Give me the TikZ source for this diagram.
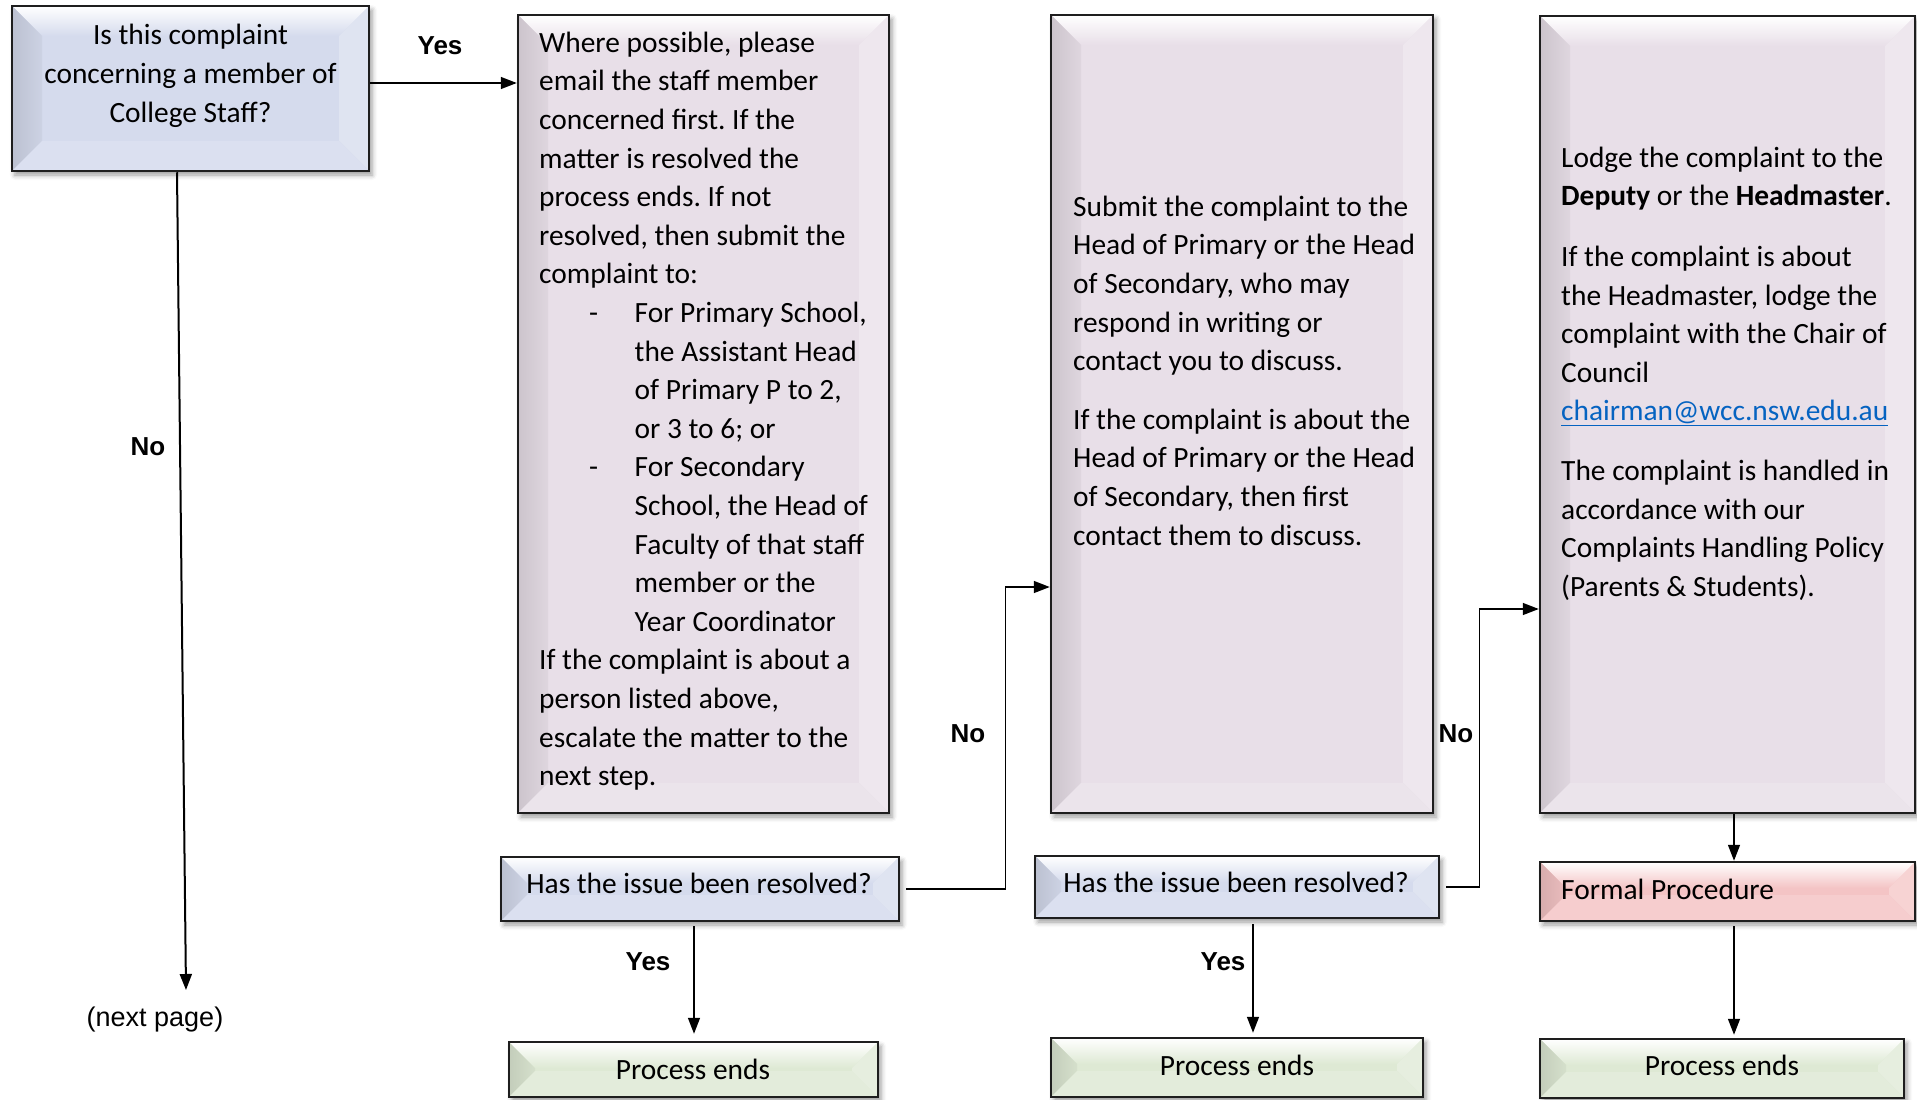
\documentclass[tikz,border=0pt]{standalone}
\usepackage{fontspec}
\setmainfont{Carlito}
\newfontfamily\labelfont{Liberation Sans}
\usetikzlibrary{arrows.meta,calc,shadows.blur}

\definecolor{qblue}{HTML}{D5DBED}
\definecolor{stepmauve}{HTML}{E8DFE8}
\definecolor{formalpink}{HTML}{F4C4C5}
\definecolor{endgreen}{HTML}{DEE9D4}
\definecolor{edgegray}{HTML}{1E1E1E}
\definecolor{linkblue}{HTML}{0563C1}

\tikzset{
  % bevelled box: #1 fill colour, #2 bevel depth
  bevelbox/.style n args={2}{
    rectangle, draw=edgegray, line width=2.5pt, fill=#1, inner sep=0pt,
    blur shadow={shadow xshift=3pt, shadow yshift=-4pt,
                 shadow blur radius=5pt, shadow opacity=40},
    path picture={
      \coordinate (pNW) at (path picture bounding box.north west);
      \coordinate (pNE) at (path picture bounding box.north east);
      \coordinate (pSW) at (path picture bounding box.south west);
      \coordinate (pSE) at (path picture bounding box.south east);
      % top face
      \shade[top color=white, bottom color=#1]
        (pNW) -- (pNE) -- ($(pNE)+(-#2,#2)$) -- ($(pNW)+(#2,#2)$) -- cycle;
      % left face
      \shade[left color=#1!88!black, right color=#1!96!black]
        (pNW) -- ($(pNW)+(#2,#2)$) -- ($(pSW)+(#2,-#2)$) -- (pSW) -- cycle;
      % right face
      \fill[#1!75!white]
        (pNE) -- ($(pNE)+(-#2,#2)$) -- ($(pSE)+(-#2,-#2)$) -- (pSE) -- cycle;
      % bottom face
      \fill[#1!85!white]
        (pSW) -- ($(pSW)+(#2,-#2)$) -- ($(pSE)+(-#2,-#2)$) -- (pSE) -- cycle;
    }
  },
  boxtext/.style={font=\fontsize{29.4pt}{38.6pt}\selectfont, inner sep=0pt},
  flowlabel/.style={font=\labelfont\bfseries\fontsize{26pt}{30pt}\selectfont, inner sep=0pt},
  conn/.style={draw=black, line width=1.5pt},
  arr/.style={conn, -{Triangle[length=16pt,width=12pt]}},
}

\begin{document}
\frenchspacing
\begin{tikzpicture}[x=1pt,y=-1pt]
\useasboundingbox (0,0) rectangle (1917,1100);

% ---- boxes ----
\node[bevelbox={qblue}{30}, minimum width=357pt, minimum height=165pt] (q1) at (190.5,88.5) {};
\node[bevelbox={stepmauve}{30}, minimum width=371pt, minimum height=798pt] (stepA) at (703.5,414) {};
\node[bevelbox={stepmauve}{30}, minimum width=382pt, minimum height=798pt] (stepB) at (1242,414) {};
\node[bevelbox={stepmauve}{30}, minimum width=375pt, minimum height=797pt] (stepC) at (1727.5,414.5) {};

\node[bevelbox={qblue}{26}, minimum width=398pt, minimum height=64pt] (res1) at (700,889) {};
\node[bevelbox={qblue}{26}, minimum width=404pt, minimum height=62pt] (res2) at (1237,887) {};
\node[bevelbox={formalpink}{26}, minimum width=375pt, minimum height=59pt] (formal) at (1727.5,891.5) {};

\node[bevelbox={endgreen}{26}, minimum width=369pt, minimum height=55pt] (end1) at (693.5,1069.5) {};
\node[bevelbox={endgreen}{26}, minimum width=372pt, minimum height=59pt] (end2) at (1237,1067.5) {};
\node[bevelbox={endgreen}{26}, minimum width=364pt, minimum height=59pt] (end3) at (1722,1068.5) {};

% ---- box texts ----
\node[boxtext, align=center, anchor=north] (q1txt) at (190.5,17.7)
  {\strut Is this complaint\\concerning a member of\\College Staff?};

\node[boxtext, align=left, anchor=north west] (stepAtxt) at (539,25) {\strut Where possible, please\\
email the staff member\\
concerned first. If the\\
matter is resolved the\\
process ends. If not\\
resolved, then submit the\\
complaint to:\\
\makebox[95.5pt][l]{\hspace*{50pt}-}For Primary School,\\
\hspace*{95.5pt}the Assistant Head\\
\hspace*{95.5pt}of Primary P to 2,\\
\hspace*{95.5pt}or 3 to 6; or\\
\makebox[95.5pt][l]{\hspace*{50pt}-}For Secondary\\
\hspace*{95.5pt}School, the Head of\\
\hspace*{95.5pt}Faculty of that staff\\
\hspace*{95.5pt}member or the\\
\hspace*{95.5pt}Year Coordinator\\
If the complaint is about a\\
person listed above,\\
escalate the matter to the\\
next step.};

\node[boxtext, align=left, anchor=north west] (stepBtxt) at (1073,189) {\strut Submit the complaint to the\\
Head of Primary or the Head\\
of Secondary, who may\\
respond in writing or\\
contact you to discuss.\\[20pt]
If the complaint is about the\\
Head of Primary or the Head\\
of Secondary, then first\\
contact them to discuss.};

\node[boxtext, align=left, anchor=north west] (stepCtxt) at (1561,140) {\strut Lodge the complaint to the\\
\textbf{Deputy} or the \textbf{Headmaster}.\\[22pt]
If the complaint is about\\
the Headmaster, lodge the\\
complaint with the Chair of\\
Council\\
\textcolor{linkblue}{\underline{chairman@wcc.nsw.edu.au}}\\[21pt]
The complaint is handled in\\
accordance with our\\
Complaints Handling Policy\\
(Parents \& Students).};

\node[boxtext, anchor=base] (res1txt) at (699,893) {Has the issue been resolved?};
\node[boxtext, anchor=base] (res2txt) at (1236,892) {Has the issue been resolved?};
\node[boxtext, anchor=base west] (formaltxt) at (1561,899) {Formal Procedure};
\node[boxtext, anchor=base] (end1txt) at (693,1079) {Process ends};
\node[boxtext, anchor=base] (end2txt) at (1237,1075) {Process ends};
\node[boxtext, anchor=base] (end3txt) at (1722,1075) {Process ends};

% ---- connectors ----
\coordinate (q1out) at ([yshift=5.5pt]q1.east);
\draw[arr] (q1out) -- (q1out -| stepA.west);

\coordinate (q1down) at ([xshift=-13.5pt]q1.south);
\coordinate (nextpage) at (186,990);
\draw[arr, line width=2pt] (q1down) -- (nextpage);

\coordinate (r1s) at ([xshift=-6pt,yshift=-4pt]res1.south);
\draw[arr, shorten >=7pt] (r1s) -- (r1s |- end1.north);

\coordinate (r2s) at ([xshift=16pt,yshift=-5pt]res2.south);
\draw[arr, shorten >=4pt] (r2s) -- (r2s |- end2.north);

\coordinate (r1e) at ([xshift=6pt]res1.east);
\draw[arr] (r1e) -- ++(99,0) |- ([yshift=-173pt]stepB.west);

\coordinate (r2e) at ([xshift=6pt]res2.east);
\draw[arr] (r2e) -- ++(33,0) |- ([yshift=-194.5pt]stepC.west);

\coordinate (cs) at ([xshift=6.5pt]stepC.south);
\draw[arr] (cs) -- (cs |- formal.north);

\coordinate (fs) at ([xshift=6.5pt,yshift=-4pt]formal.south);
\draw[arr, shorten >=3pt] (fs) -- (fs |- end3.north);

% ---- connector labels ----
\node[flowlabel] (yes1) at (440,46) {Yes};
\node[flowlabel] (no1) at (148,447) {No};
\node[flowlabel] (yes2) at (648,962) {Yes};
\node[flowlabel] (no2) at (968,734) {No};
\node[flowlabel] (yes3) at (1223,962) {Yes};
\node[flowlabel] (no3) at (1456,734) {No};
\node[flowlabel, font=\labelfont\fontsize{27pt}{30pt}\selectfont] (nexttxt) at (155,1020) {(next page)};
\end{tikzpicture}
\end{document}
